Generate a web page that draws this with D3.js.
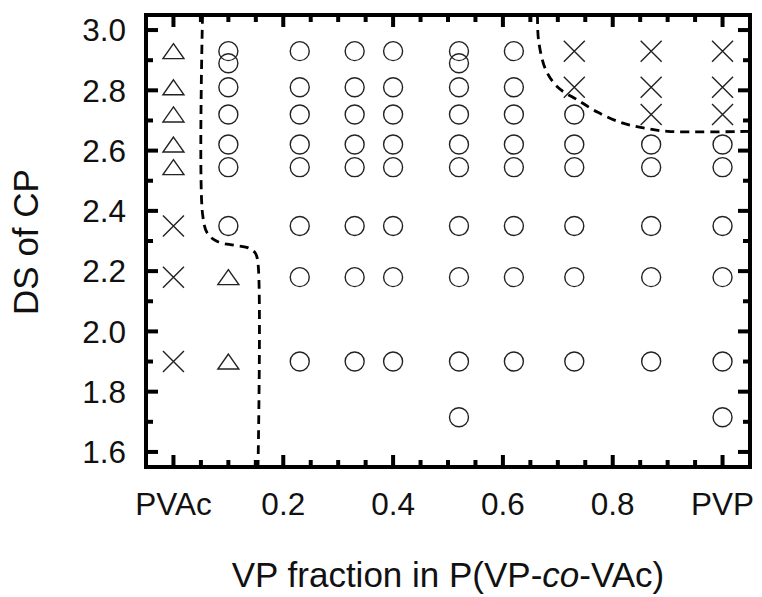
<!DOCTYPE html>
<html lang="en">
<head>
    <meta charset="UTF-8">
    <title>DS of CP vs VP fraction</title>
    <script src="https://d3js.org/d3.v7.min.js"></script>
    <style>
        body {
            margin: 0;
            background: white;
            font-family: "Liberation Sans", Arial, sans-serif;
        }

        .frame {
            fill: none;
            stroke: #000;
            stroke-width: 4px;
        }

        .tick-mark {
            stroke: #000;
            stroke-width: 4px;
        }

        .tick-label {
            font-size: 31.5px;
            fill: #111;
        }

        .axis-title {
            font-size: 35px;
            fill: #111;
        }

        .mark {
            fill: none;
            stroke: #222;
            stroke-width: 1.4px;
        }

        .boundary {
            fill: none;
            stroke: #000;
            stroke-width: 2.8px;
            stroke-dasharray: 9, 6;
        }
    </style>
</head>
<body>
    <script>
        const width = 762, height = 597;
        const margin = { left: 146, right: 12, top: 15, bottom: 130 };

        // x ticks (VP fraction) and y ticks (DS)
        const xMajor = [0, 0.2, 0.4, 0.6, 0.8, 1.0];
        const xMajorLabels = ["PVAc", "0.2", "0.4", "0.6", "0.8", "PVP"];
        const xMinor = [0.05, 0.1, 0.15, 0.25, 0.3, 0.35, 0.45, 0.5, 0.55, 0.65, 0.7, 0.75, 0.85, 0.9, 0.95];
        const yMajor = [1.6, 1.8, 2.0, 2.2, 2.4, 2.6, 2.8, 3.0];
        const yMinor = [1.7, 1.9, 2.1, 2.3, 2.5, 2.7, 2.9];

        // observations: [VP fraction, DS]
        const circlePoints = [
            [0.1, 2.93], [0.1, 2.89], [0.1, 2.81], [0.1, 2.72], [0.1, 2.62], [0.1, 2.545], [0.1, 2.35],
            [0.23, 2.93], [0.23, 2.81], [0.23, 2.72], [0.23, 2.62], [0.23, 2.545], [0.23, 2.35], [0.23, 2.18], [0.23, 1.90],
            [0.33, 2.93], [0.33, 2.81], [0.33, 2.72], [0.33, 2.62], [0.33, 2.545], [0.33, 2.35], [0.33, 2.18], [0.33, 1.90],
            [0.40, 2.93], [0.40, 2.81], [0.40, 2.72], [0.40, 2.62], [0.40, 2.545], [0.40, 2.35], [0.40, 2.18], [0.40, 1.90],
            [0.52, 2.93], [0.52, 2.89], [0.52, 2.81], [0.52, 2.72], [0.52, 2.62], [0.52, 2.545], [0.52, 2.35], [0.52, 2.18], [0.52, 1.90], [0.52, 1.715],
            [0.62, 2.93], [0.62, 2.81], [0.62, 2.72], [0.62, 2.62], [0.62, 2.545], [0.62, 2.35], [0.62, 2.18], [0.62, 1.90],
            [0.73, 2.72], [0.73, 2.62], [0.73, 2.545], [0.73, 2.35], [0.73, 2.18], [0.73, 1.90],
            [0.87, 2.62], [0.87, 2.545], [0.87, 2.35], [0.87, 2.18], [0.87, 1.90],
            [1.0, 2.62], [1.0, 2.545], [1.0, 2.35], [1.0, 2.18], [1.0, 1.90], [1.0, 1.715]
        ];
        const trianglePoints = [
            [0, 2.93], [0, 2.81], [0, 2.72], [0, 2.62], [0, 2.545],
            [0.1, 2.18], [0.1, 1.90]
        ];
        const crossPoints = [
            [0, 2.35], [0, 2.18], [0, 1.90],
            [0.73, 2.93], [0.73, 2.81],
            [0.87, 2.93], [0.87, 2.81], [0.87, 2.72],
            [1.0, 2.93], [1.0, 2.81], [1.0, 2.72]
        ];

        // dashed phase boundaries
        const leftBoundary = [
            [0.053, 3.05], [0.053, 2.39], [0.062, 2.325], [0.08, 2.298], [0.11, 2.286],
            [0.135, 2.278], [0.149, 2.26], [0.154, 2.225], [0.154, 1.55]
        ];
        const rightBoundary = [
            [0.663, 3.05], [0.665, 2.965], [0.678, 2.868], [0.70, 2.81], [0.736, 2.768],
            [0.773, 2.727], [0.815, 2.693], [0.851, 2.677], [0.90, 2.664], [1.05, 2.664]
        ];

        const x = d3.scaleLinear().domain([-0.05, 1.05]).range([margin.left, width - margin.right]);
        const y = d3.scaleLinear().domain([1.55, 3.05]).range([height - margin.bottom, margin.top]);

        const svg = d3.select("body").append("svg")
            .attr("width", width)
            .attr("height", height);

        const x0 = x.range()[0], x1 = x.range()[1];
        const y0 = y.range()[0], y1 = y.range()[1];

        svg.append("clipPath").attr("id", "plot-clip")
            .append("rect")
            .attr("x", x0).attr("y", y1)
            .attr("width", x1 - x0).attr("height", y0 - y1);

        // Tick marks on all four sides, pointing inward
        const tickGroup = svg.append("g");
        const majorLen = 12, minorLen = 7;

        function xTicks(values, len) {
            tickGroup.selectAll(null).data(values).enter().append("line")
                .attr("class", "tick-mark")
                .attr("x1", d => x(d)).attr("x2", d => x(d))
                .attr("y1", y0).attr("y2", y0 - len);
            tickGroup.selectAll(null).data(values).enter().append("line")
                .attr("class", "tick-mark")
                .attr("x1", d => x(d)).attr("x2", d => x(d))
                .attr("y1", y1).attr("y2", y1 + len);
        }

        function yTicks(values, len) {
            tickGroup.selectAll(null).data(values).enter().append("line")
                .attr("class", "tick-mark")
                .attr("y1", d => y(d)).attr("y2", d => y(d))
                .attr("x1", x0).attr("x2", x0 + len);
            tickGroup.selectAll(null).data(values).enter().append("line")
                .attr("class", "tick-mark")
                .attr("y1", d => y(d)).attr("y2", d => y(d))
                .attr("x1", x1).attr("x2", x1 - len);
        }

        xTicks(xMajor, majorLen);
        xTicks(xMinor, minorLen);
        yTicks(yMajor, majorLen);
        yTicks(yMinor, minorLen);

        // Tick labels
        svg.selectAll(".xlab")
            .data(xMajor)
            .enter()
            .append("text")
            .attr("class", "tick-label")
            .attr("x", d => x(d))
            .attr("y", y0 + 48)
            .attr("text-anchor", "middle")
            .text((d, i) => xMajorLabels[i]);

        svg.selectAll(".ylab")
            .data(yMajor)
            .enter()
            .append("text")
            .attr("class", "tick-label")
            .attr("x", x0 - 20)
            .attr("y", d => y(d))
            .attr("dy", "0.36em")
            .attr("text-anchor", "end")
            .text(d => d.toFixed(1));

        // Dashed boundaries
        const line = d3.line()
            .x(d => x(d[0]))
            .y(d => y(d[1]))
            .curve(d3.curveCatmullRom.alpha(0.5));

        svg.append("g").attr("clip-path", "url(#plot-clip)")
            .selectAll("path")
            .data([leftBoundary, rightBoundary])
            .enter()
            .append("path")
            .attr("class", "boundary")
            .attr("d", line);

        // Markers
        const marks = svg.append("g");

        marks.selectAll(".circ")
            .data(circlePoints)
            .enter()
            .append("circle")
            .attr("class", "mark")
            .attr("cx", d => x(d[0]))
            .attr("cy", d => y(d[1]))
            .attr("r", 9.5);

        marks.selectAll(".tri")
            .data(trianglePoints)
            .enter()
            .append("path")
            .attr("class", "mark")
            .attr("transform", d => `translate(${x(d[0])},${y(d[1])})`)
            .attr("d", "M0,-7.5L10.5,7.5L-10.5,7.5Z");

        marks.selectAll(".cross")
            .data(crossPoints)
            .enter()
            .append("path")
            .attr("class", "mark")
            .attr("transform", d => `translate(${x(d[0])},${y(d[1])})`)
            .attr("d", "M-10.5,-10.5L10.5,10.5M-10.5,10.5L10.5,-10.5");

        // Frame
        svg.append("rect")
            .attr("class", "frame")
            .attr("x", x0).attr("y", y1)
            .attr("width", x1 - x0).attr("height", y0 - y1);

        // Axis titles
        const xt = svg.append("text")
            .attr("class", "axis-title")
            .attr("x", 448)
            .attr("y", 587)
            .attr("text-anchor", "middle");
        xt.append("tspan").text("VP fraction in P(VP-");
        xt.append("tspan").attr("font-style", "italic").text("co");
        xt.append("tspan").text("-VAc)");

        svg.append("text")
            .attr("class", "axis-title")
            .attr("transform", "translate(38,242) rotate(-90)")
            .attr("text-anchor", "middle")
            .text("DS of CP");
    </script>
</body>
</html>
